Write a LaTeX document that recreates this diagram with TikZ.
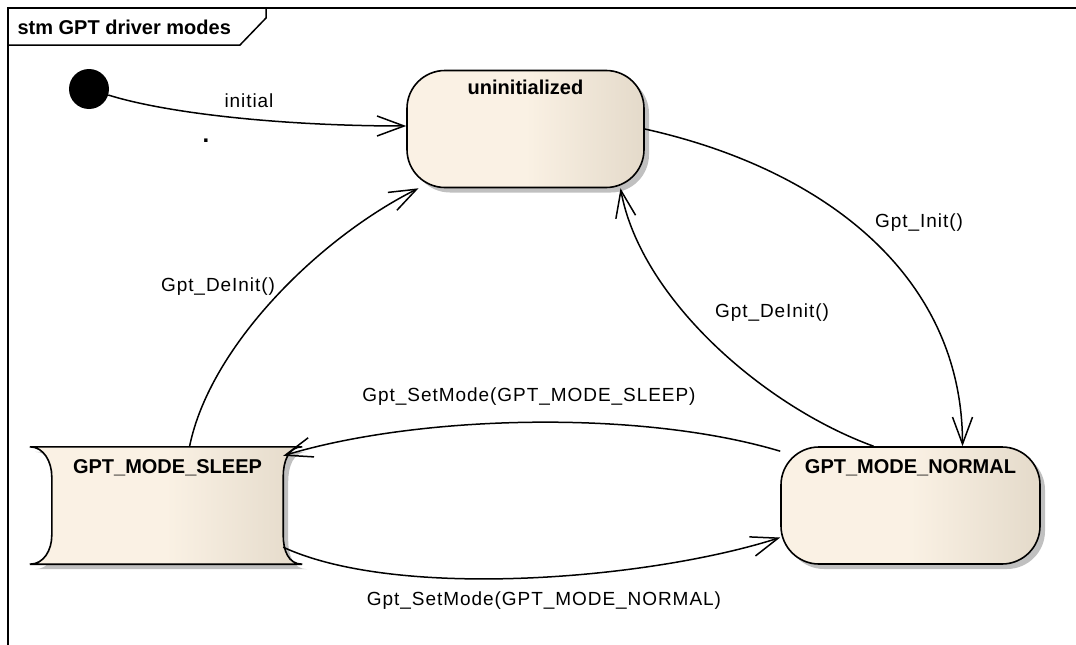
\documentclass[tikz,border=0pt]{standalone}
\usepackage{fontspec}
\setmainfont{Liberation Sans}
\newfontfamily\edgefont[LetterSpace=5]{Liberation Sans}
\usetikzlibrary{arrows.meta,shadows}

\definecolor{stateleft}{RGB}{250,241,228}
\definecolor{stateright}{RGB}{228,218,202}
\definecolor{shadowgray}{RGB}{192,192,192}

\tikzset{
  statebox/.style={draw, line width=1.6pt, rounded corners=38pt, inner sep=0pt,
    minimum height=117pt, left color=stateleft, right color=stateright,
    middle color=stateleft,
    drop shadow={shadow xshift=5pt, shadow yshift=-5pt, fill=shadowgray, opacity=1}},
  statename/.style={anchor=base, inner sep=0pt, font=\bfseries\fontsize{20}{24}\selectfont},
  trans/.style={line width=1.5pt, -{Straight Barb[length=27pt,width=20pt]}},
  translabel/.style={font=\edgefont\fontsize{19}{23}\selectfont},
}

\begin{document}
\begin{tikzpicture}[x=1pt, y=-1pt]
  \useasboundingbox (0,0) rectangle (1076,645);

  % frame
  \draw[line width=2pt] (8,645) -- (8,8) -- (1076,8);
  \draw[line width=1.5pt] (8,45) -- (240,45) -- (266,18) -- (266,8);
  \node[anchor=west, font=\bfseries\fontsize{20}{24}\selectfont] (title) at (14,27) {stm GPT driver modes};

  % states
  \node[circle, fill=black, minimum size=40pt, inner sep=0pt] (init) at (89,89) {};
  \node[statebox, minimum width=237pt] (uninit) at (525.5,129) {};
  \node[statebox, minimum width=259pt] (normal) at (910.5,505.5) {};
  \node[inner sep=0pt, minimum width=231pt, minimum height=117pt] (sleep) at (167.5,505.5) {};
  \path[draw, line width=1.6pt, left color=stateleft, right color=stateright,
        middle color=stateleft,
        drop shadow={shadow xshift=5pt, shadow yshift=-5pt, fill=shadowgray, opacity=1}]
    ([xshift=-22pt]sleep.north west) -- ([xshift=19pt]sleep.north east)
    .. controls +(-14,0) and +(0,-15) .. ([yshift=-30pt]sleep.north east)
    -- ([yshift=29pt]sleep.south east)
    .. controls +(0,15) and +(-14,0) .. ([xshift=19pt]sleep.south east)
    -- ([xshift=-22pt]sleep.south west)
    .. controls +(14,0) and +(0,15) .. ([yshift=29pt]sleep.south west)
    -- ([yshift=-30pt]sleep.north west)
    .. controls +(0,-15) and +(14,0) .. ([xshift=-22pt]sleep.north west) -- cycle;

  \node[statename] (uninitname) at ([yshift=-25pt]uninit.north) {uninitialized};
  \node[statename] (normalname) at ([yshift=-27pt]normal.north) {GPT\_MODE\_NORMAL};
  \node[statename] (sleepname) at ([yshift=-27pt]sleep.north) {GPT\_MODE\_SLEEP};

  % transitions
  \draw[trans] (init) .. controls +(80,25) and +(-120,0) .. ([yshift=3pt]uninit.west);
  \draw[trans] (uninit.east) .. controls +(180,40) and +(0,-170) .. ([xshift=52pt]normal.north);
  \draw[trans] ([xshift=-37pt]normal.north) .. controls +(-110,-40) and +(20,110) .. ([xshift=95pt]uninit.south);
  \draw[trans] ([xshift=22pt]sleep.north) .. controls +(20,-100) and +(-100,50) .. ([xshift=-107pt]uninit.south);
  \draw[trans] ([yshift=-5pt]normal.north west) .. controls +(-140,-42) and +(135,-41) .. ([yshift=-9pt]sleep.north east);
  \draw[trans] ([yshift=17pt]sleep.south east) .. controls +(115,53) and +(-131,42) .. ([yshift=-32pt]normal.west);

  \begin{scope}[every node/.style={translabel}]
    \node (initlbl) at (249,101) {initial};
    \node[font=\bfseries\fontsize{24}{28}\selectfont] (dotlbl) at (206,141) {.};
    \node (initcall) at (919,223) {Gpt\_Init()};
    \node (deinitright) at (772,313) {Gpt\_DeInit()};
    \node (deinitleft) at (218,287) {Gpt\_DeInit()};
    \node (tosleep) at (529,397) {Gpt\_SetMode(GPT\_MODE\_SLEEP)};
    \node (tonormal) at (544,601) {Gpt\_SetMode(GPT\_MODE\_NORMAL)};
  \end{scope}
\end{tikzpicture}
\end{document}
